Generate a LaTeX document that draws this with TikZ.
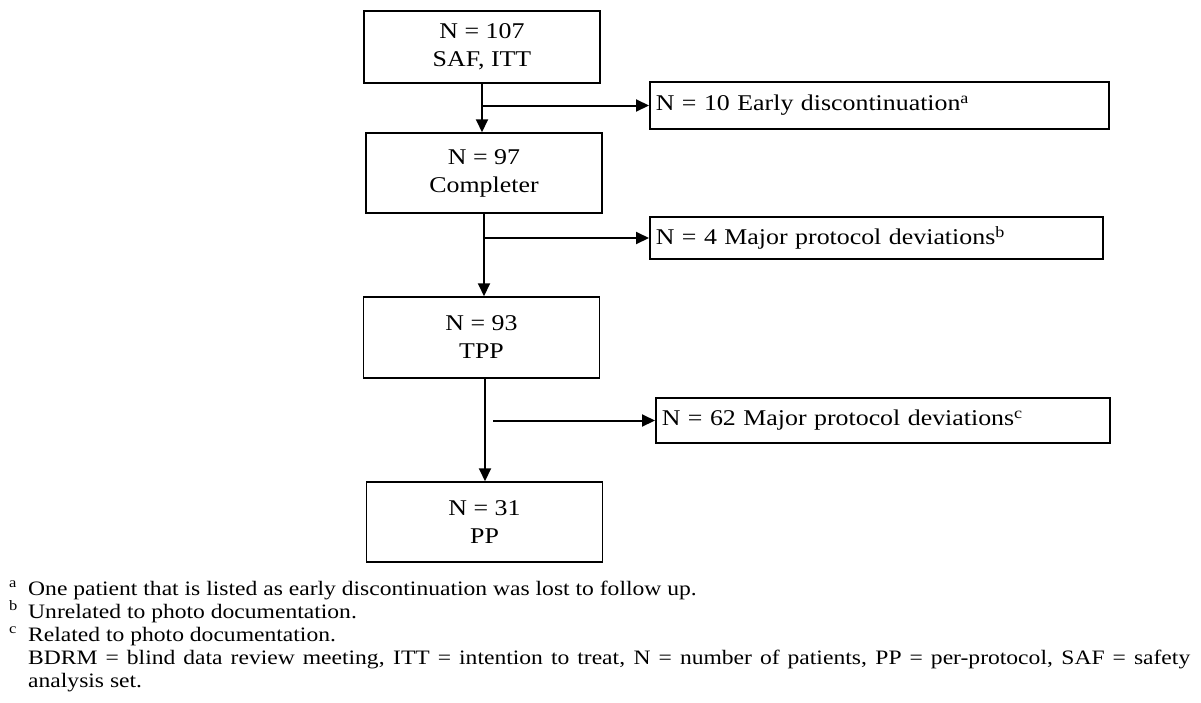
\documentclass[tikz,border=0pt]{standalone}
\usepackage{fontspec}
\setmainfont{Liberation Serif}[FakeStretch=1.15]
\usetikzlibrary{arrows.meta,positioning}

\begin{document}
\begin{tikzpicture}[x=1pt,y=-1pt,
		mainbox/.style={draw,line width=1.5pt,minimum width=236pt,align=center,font=\fontsize{22.5}{28}\selectfont},
		sidebox/.style={draw,line width=1.5pt,anchor=west,inner xsep=6pt,align=left,font=\fontsize{22.5}{28}\selectfont},
		flow/.style={line width=2pt,-{Triangle[length=13pt,width=12pt]}},
		note/.style={anchor=base west,inner sep=0pt,font=\fontsize{20.5}{23}\selectfont}]
		\useasboundingbox (0,0) rectangle (1201,702);

		\node[mainbox,minimum height=72pt] (saf) at (482,47) {N = 107\\SAF, ITT};
		\node[mainbox,minimum height=80pt] (compl) at (484,173) {N = 97\\Completer};
		\node[mainbox,minimum height=81pt] (tpp) at (481.5,337.5) {N = 93\\TPP};
		\node[mainbox,minimum height=80pt] (pp) at (484.5,522) {N = 31\\PP};

		\node[sidebox,text width=447pt,minimum height=47pt] (early) at (649,105.5) {N = 10 Early discontinuation\textsuperscript{a}};
		\node[sidebox,text width=441pt,minimum height=42pt] (devb) at (649,238) {N = 4 Major protocol deviations\textsuperscript{b}};
		\node[sidebox,text width=442pt,minimum height=45pt] (devc) at (655,420.5) {N = 62 Major protocol deviations\textsuperscript{c}};

		\draw[flow] (saf.south) -- (saf.south |- compl.north);
		\draw[flow] (saf.south |- early.west) -- (early.west);
		\draw[flow] (compl.south) -- (compl.south |- tpp.north);
		\draw[flow] (compl.south |- devb.west) -- (devb.west);
		\draw[flow] ([xshift=3.5pt]tpp.south) -- ([xshift=3.5pt]tpp.south |- pp.north);
		\coordinate (gap) at ([xshift=11.5pt]tpp.south |- devc.west);
		\draw[flow] (gap) -- (devc.west);

		\node[note] (marka) at (9,595) {\textsuperscript{a}};
		\node[note] (fna) at (28,595) {One patient that is listed as early discontinuation was lost to follow up.};
		\node[note] (markb) at (9,618) {\textsuperscript{b}};
		\node[note] (fnb) at (28,618) {Unrelated to photo documentation.};
		\node[note] (markc) at (9,641) {\textsuperscript{c}};
		\node[note] (fnc) at (28,641) {Related to photo documentation.};
		\node[note] (abbr) at (28,664) {\makebox[1162pt][s]{BDRM = blind data review meeting, ITT = intention to treat, N = number of patients, PP = per-protocol, SAF = safety}};
		\node[note] (abbrend) at (28,687) {analysis set.};
	\end{tikzpicture}
\end{document}
